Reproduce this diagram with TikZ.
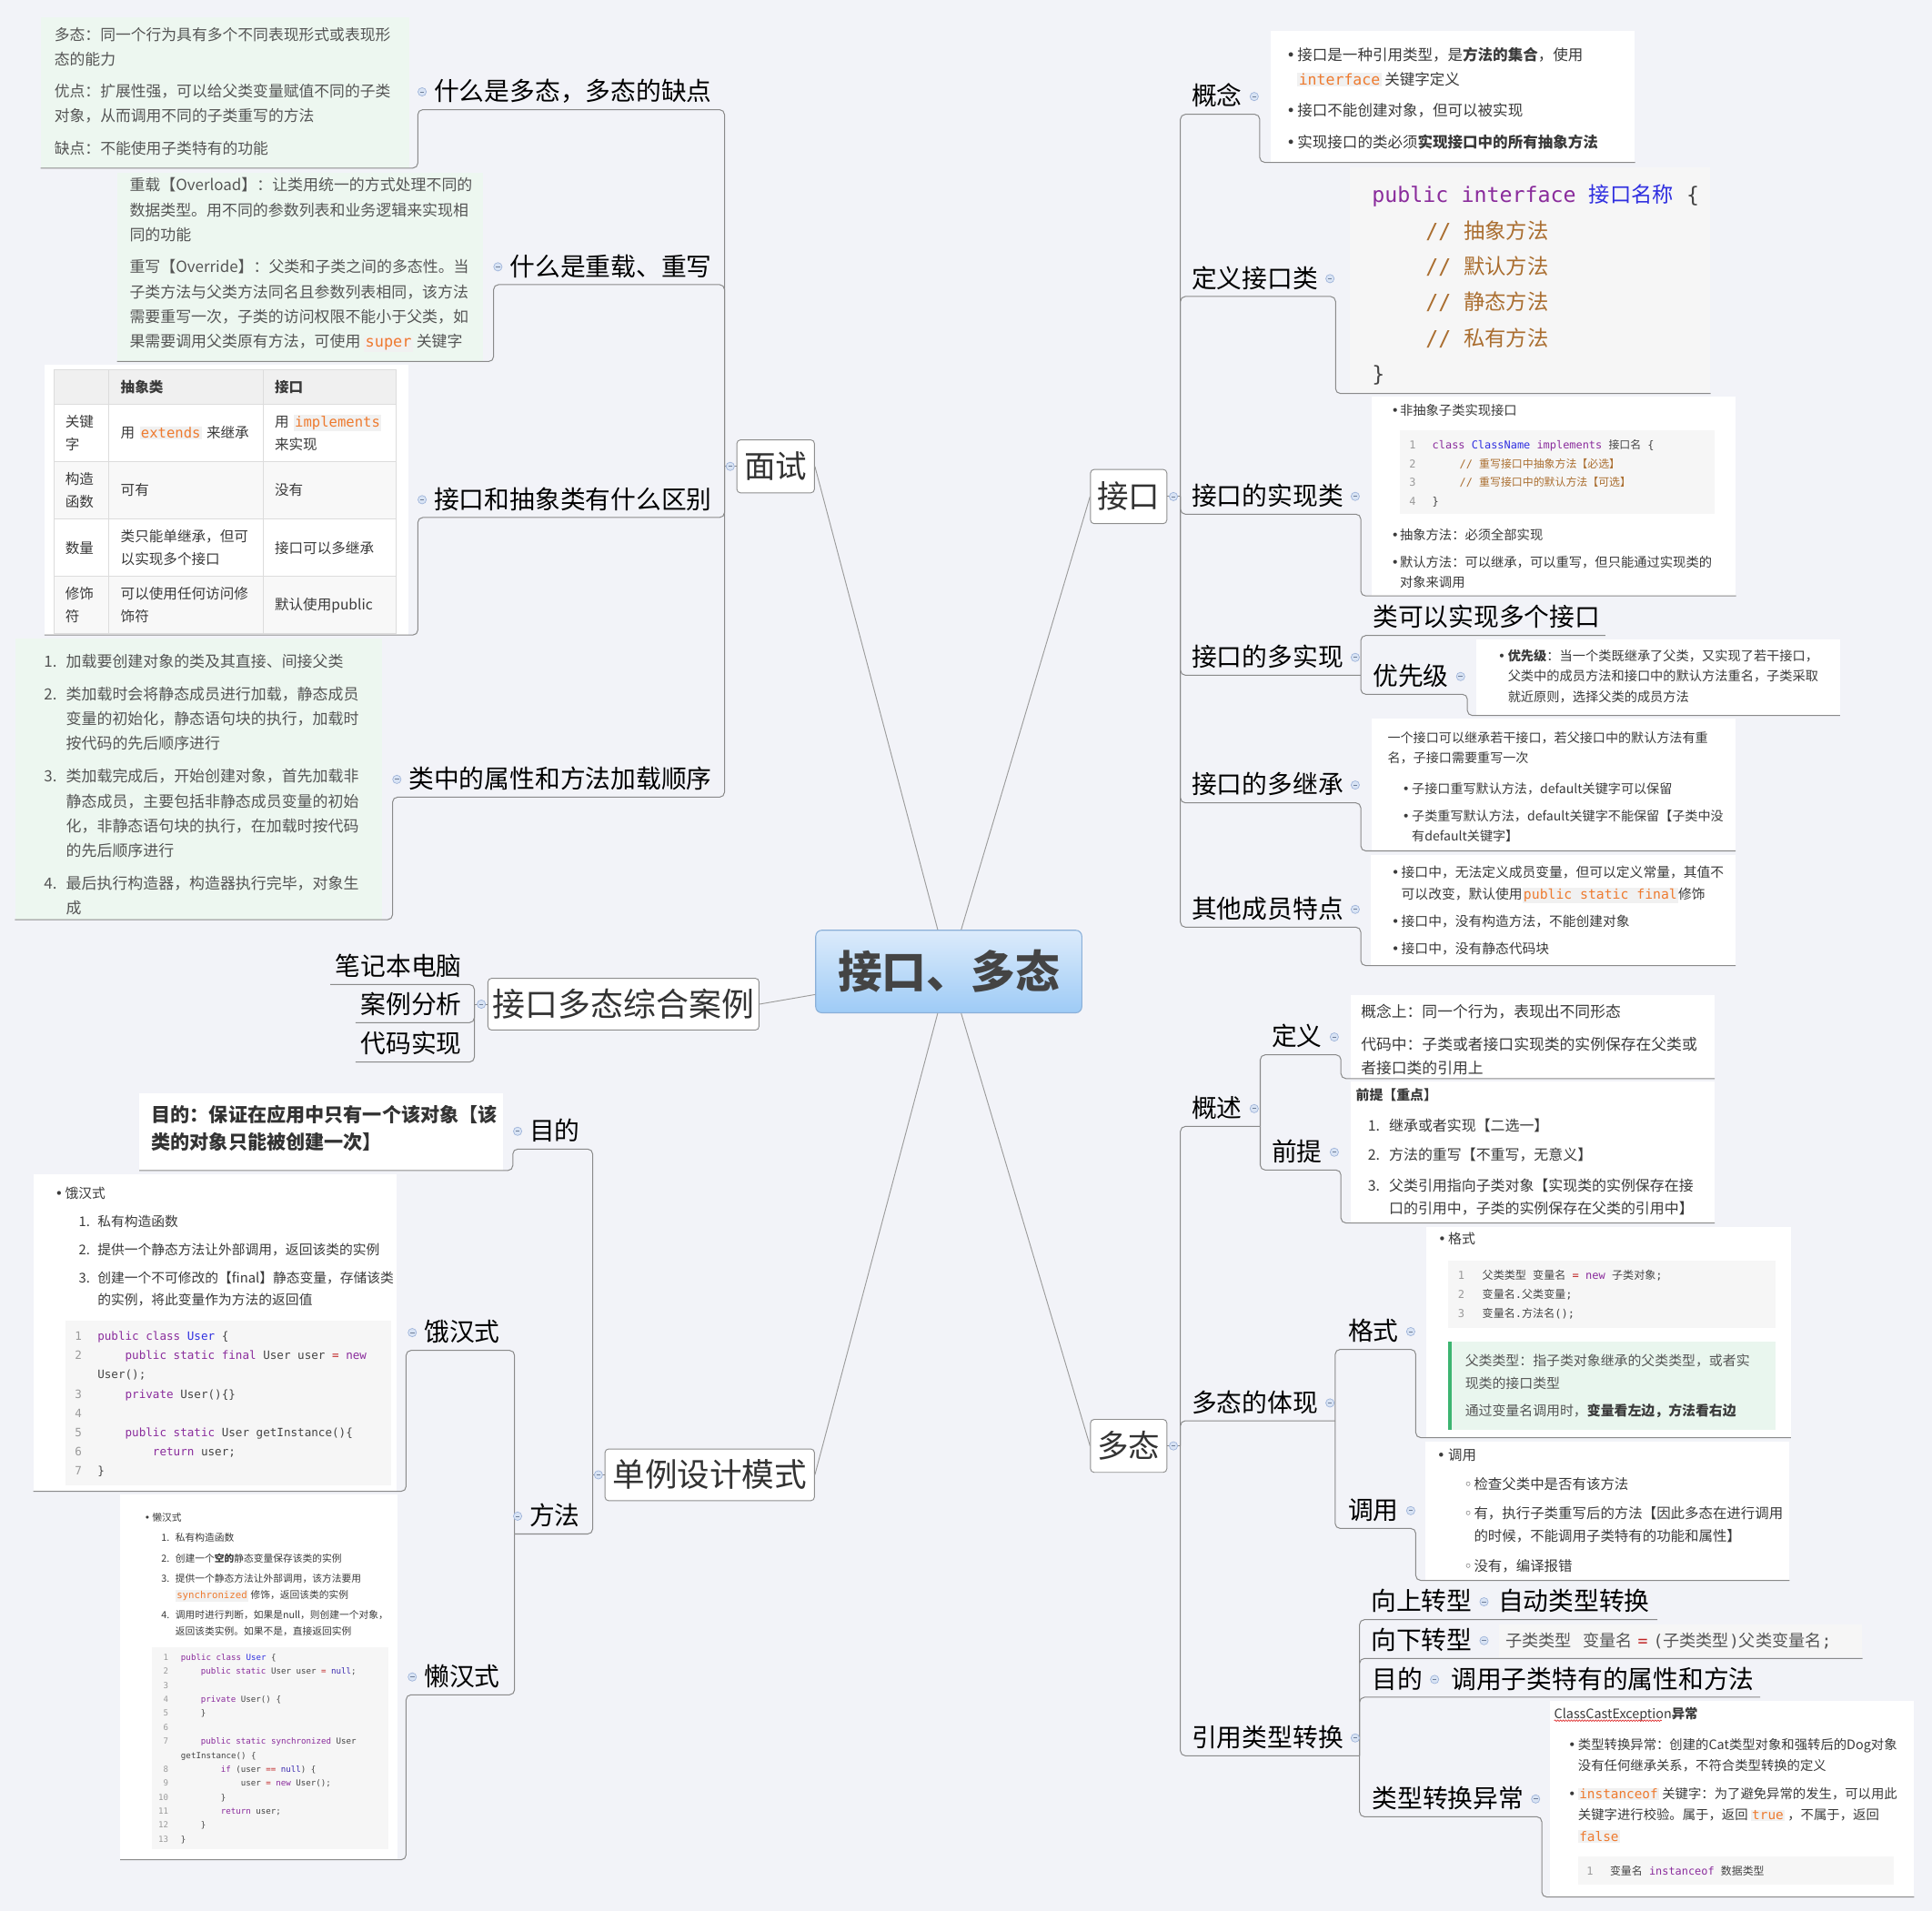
\documentclass[tikz,border=0pt]{standalone}
\usepackage{fontspec}
\setmainfont{Noto Sans CJK SC}
\setmonofont{DejaVu Sans Mono}
\newfontfamily\djv{DejaVu Sans}
\usetikzlibrary{matrix,decorations.pathmorphing}
\definecolor{bgc}{HTML}{F2F3F8}
\definecolor{lnk}{HTML}{8A8A8A}
\definecolor{clnk}{HTML}{9C9C9C}
\definecolor{tbord}{HTML}{8E8E8E}
\definecolor{ttext}{HTML}{333333}
\definecolor{ctop}{HTML}{DCEBFB}
\definecolor{cbot}{HTML}{9ECBF6}
\definecolor{cbord}{HTML}{8AAFD8}
\definecolor{ctext}{HTML}{444444}
\definecolor{foldf}{HTML}{D8E3F4}
\definecolor{foldd}{HTML}{9FB4DA}
\definecolor{gfill}{HTML}{EDF7F0}
\definecolor{gtext}{HTML}{555555}
\definecolor{wtext}{HTML}{3A3A3A}
\definecolor{icbg}{HTML}{F1F1F1}
\definecolor{icfg}{HTML}{EE7A2E}
\definecolor{cbg}{HTML}{F6F6F6}
\definecolor{kwc}{HTML}{8A2C9C}
\definecolor{defc}{HTML}{3030E0}
\definecolor{atomc}{HTML}{3B2BB0}
\definecolor{cmc}{HTML}{AA6E30}
\definecolor{opc}{HTML}{C02525}
\definecolor{lnc}{HTML}{9A9A9A}
\definecolor{codec}{HTML}{444444}
\definecolor{tgrid}{HTML}{DCDCDC}
\definecolor{thead}{HTML}{F0F0F0}
\definecolor{trow}{HTML}{F8F8F8}
\definecolor{qfill}{HTML}{E9F6EE}
\definecolor{qbar}{HTML}{3DB571}
\definecolor{spell}{HTML}{E03030}
\newcommand{\dtx}[3]{\parbox[t][#2][t]{#1}{\rule{0pt}{0.88em}#3}}
\newcommand{\ic}[1]{{\setlength{\fboxsep}{1pt}\colorbox{icbg}{\ttfamily\color{icfg}#1}}}
\newcommand{\kw}[1]{\textcolor{kwc}{#1}}
\newcommand{\tyn}[1]{\textcolor{defc}{#1}}
\newcommand{\zh}[1]{{\rmfamily #1}}
\newcommand{\lnum}[2]{\makebox[#1][l]{\textcolor{lnc}{#2}}}
\newcommand{\lnr}[3]{\makebox[#1][r]{\textcolor{lnc}{#3}}\hspace*{#2}}
\newcommand{\bul}[1]{\makebox[#1][l]{\djv •}}
\newcommand{\wbul}[1]{\makebox[#1][l]{\djv ◦}}
\tikzset{
  topic/.style={draw=tbord, line width=0.7pt, fill=white, rounded corners=3pt, text=ttext,
    inner sep=0pt, font=\fontsize{25.5}{30}\selectfont},
  root/.style={draw=cbord, line width=0.8pt, rounded corners=5pt, top color=ctop, bottom color=cbot,
    text=ctext, inner sep=0pt, minimum width=216pt, minimum height=67pt,
    font=\fontsize{36}{40}\selectfont\bfseries},
  lab/.style={inner xsep=0pt, inner ysep=4pt, text height=17.4pt, text depth=3.1pt,
    font=\fontsize{20.5}{24}\selectfont, text=black},
  labl/.style={lab, anchor=south east},
  labr/.style={lab, anchor=south west},
  note/.style={anchor=north west, inner sep=0pt, fill=white, text=wtext},
  gnote/.style={note, fill=gfill, text=gtext},
  code/.style={note, fill=cbg, text=codec},
  link/.style={draw=lnk, line width=0.75pt, rounded corners=4pt},
  clink/.style={draw=clnk, line width=0.7pt},
  fold/.pic={\draw[fill=foldf, draw=foldd, line width=0.5pt] (0,0) circle (3.4pt);
    \draw[foldd!70!black, line width=0.6pt] (-1.7pt,0) -- (1.7pt,0);}
}

\begin{document}
\begin{tikzpicture}[x=1pt,y=-1pt]
\useasboundingbox (0,0) rectangle (1568,1551);
\fill[bgc] (0,0) rectangle (1568,1551);

% centre and main topics
\node[root] (c) at (770,788.5) {接口、多态};
\node[topic, minimum width=63pt, minimum height=43pt] (ms) at (629.5,378.5) {面试};
\node[topic, minimum width=62pt, minimum height=44pt] (jk) at (916,403) {接口};
\node[topic, minimum width=62pt, minimum height=43pt] (dt) at (916,1173.5) {多态};
\node[topic, minimum width=220pt, minimum height=42pt, font=\fontsize{26.5}{30}\selectfont] (ag) at (506,815) {接口多态综合案例};
\node[topic, minimum width=170pt, minimum height=42pt, font=\fontsize{26.3}{30}\selectfont] (dl) at (576,1197) {单例设计模式};
\draw[clink] (ms.east) -- (c);
\draw[clink] (jk.west) -- (c);
\draw[clink] (ag.east) -- (c);
\draw[clink] (dl.east) -- (c);
\draw[clink] (dt.west) -- (c);

% 面试
\coordinate (msT) at (588,378.5);
\node[labl] (L1) at (578,89) {什么是多态，多态的缺点};
\node[labl] (L2) at (578,231) {什么是重载、重写};
\node[labl] (L3) at (578,420) {接口和抽象类有什么区别};
\node[labl] (L4) at (578,647) {类中的属性和方法加载顺序};
\node[gnote, inner xsep=11pt, inner ysep=7.8pt, font=\fontsize{12.4}{20}\selectfont] (D1) at (33,14)
  {\dtx{277pt}{106.4pt}{多态：同一个行为具有多个不同表现形式或表现形\\态的能力\\[6pt]
   优点：扩展性强，可以给父类变量赋值不同的子类\\对象，从而调用不同的子类重写的方法\\[6pt]
   缺点：不能使用子类特有的功能}};
\node[gnote, inner xsep=10pt, inner ysep=3.75pt, font=\fontsize{12.5}{20.2}\selectfont] (D2) at (95,140)
  {\dtx{277pt}{145.5pt}{重载【Overload】：让类用统一的方式处理不同的\\数据类型。用不同的参数列表和业务逻辑来实现相\\同的功能\\[5.8pt]
   重写【Override】：父类和子类之间的多态性。当\\子类方法与父类方法同名且参数列表相同，该方法\\需要重写一次，子类的访问权限不能小于父类，如\\
   \mbox{果需要调用父类原有方法，可使用 \ic{super} 关键字}}};
\node[note, minimum width=295pt, minimum height=219pt] (D3) at (36,296) {};
\matrix (tbl) [matrix of nodes, nodes in empty cells, anchor=north west, inner sep=0pt,
  row sep=-0.6pt, column sep=-0.6pt,
  nodes={draw=tgrid, line width=0.6pt, fill=white, anchor=center, inner xsep=9.5pt, inner ysep=0pt,
    align=left, text=wtext, font=\fontsize{11.5}{18.5}\selectfont, minimum height=46.6pt},
  column 1/.style={nodes={text width=26pt}},
  column 2/.style={nodes={text width=106pt}},
  column 3/.style={nodes={text width=89pt}},
  row 1/.style={nodes={minimum height=28pt, fill=thead, font=\fontsize{11.5}{18.5}\selectfont\bfseries}},
  row 3/.style={nodes={fill=trow}},
  row 5/.style={nodes={fill=trow}}] at (43,299.5) {
  & 抽象类 & 接口 \\
  {关键\\字} & 用 \ic{extends} 来继承 & {用 \ic{implements}\\来实现} \\
  {构造\\函数} & 可有 & 没有 \\
  数量 & {类只能单继承，但可\\以实现多个接口} & 接口可以多继承 \\
  {修饰\\符} & {可以使用任何访问修\\饰符} & 默认使用public \\
};
\node[gnote, inner xsep=23.5pt, inner ysep=12.45pt, font=\fontsize{12.5}{20}\selectfont] (D4) at (12,518)
  {\dtx{251pt}{203.1pt}{\makebox[18pt][l]{1.}加载要创建对象的类及其直接、间接父类\\[6.6pt]
   \makebox[18pt][l]{2.}类加载时会将静态成员进行加载，静态成员\\\hspace*{18pt}变量的初始化，静态语句块的执行，加载时\\\hspace*{18pt}按代码的先后顺序进行\\[6.6pt]
   \makebox[18pt][l]{3.}类加载完成后，开始创建对象，首先加载非\\\hspace*{18pt}静态成员，主要包括非静态成员变量的初始\\\hspace*{18pt}化，非静态语句块的执行，在加载时按代码\\\hspace*{18pt}的先后顺序进行\\[7pt]
   \makebox[18pt][l]{4.}最后执行构造器，构造器执行完毕，对象生\\\hspace*{18pt}成}};
\draw[link] (ms.west) -- (msT);
\draw[link] (msT) |- (L1.south east) -- ([xshift=-13pt]L1.south west) |- (D1.south west);
\draw[link] (msT) |- (L2.south east) -- ([xshift=-13pt]L2.south west) |- (D2.south west);
\draw[link] (msT) |- (L3.south east) -- ([xshift=-13pt]L3.south west) |- (D3.south west);
\draw[link] (msT) |- (L4.south east) -- ([xshift=-13pt]L4.south west) |- (D4.south west);

% 接口多态综合案例
\coordinate (agT) at (385,815);
\node[labl] (C1) at (375,799) {笔记本电脑};
\node[labl] (C2) at (375,830) {案例分析};
\node[labl] (C3) at (375,862) {代码实现};
\draw[link] (ag.west) -- (agT);
\draw[link] (agT) |- (C1.south east) -- ([xshift=-4pt]C1.south west);
\draw[link] (agT) |- (C2.south east) -- ([xshift=-4pt]C2.south west);
\draw[link] (agT) |- (C3.south east) -- ([xshift=-4pt]C3.south west);

% 单例设计模式
\coordinate (dlT) at (481,1197);
\node[labl] (M1) at (471,932.6) {目的};
\node[labl] (M2) at (471,1245) {方法};
\node[labl] (H1) at (406,1096) {饿汉式};
\node[labl] (H2) at (406,1375.5) {懒汉式};
\node[note, text=ttext, inner xsep=9.7pt, inner ysep=9.8pt, font=\fontsize{15.6}{22}\selectfont\bfseries] (MD1) at (113,887)
  {\dtx{275.6pt}{43pt}{目的：保证在应用中只有一个该对象【该\\类的对象只能被创建一次】}};
\node[note, inner xsep=17.6pt, inner ysep=10.45pt, font=\fontsize{10.9}{17.7}\selectfont] (HD1) at (27,952.6)
  {\dtx{259.8pt}{236.5pt}{\bul{8pt}饿汉式\\[4.8pt]
   \hspace*{19.2pt}\makebox[15.2pt][l]{1.}私有构造函数\\[5.3pt]
   \hspace*{19.2pt}\makebox[15.2pt][l]{2.}提供一个静态方法让外部调用，返回该类的实例\\[5.3pt]
   \hspace*{19.2pt}\makebox[15.2pt][l]{3.}创建一个不可修改的【final】静态变量，存储该类\\
   \hspace*{34.4pt}的实例，将此变量作为方法的返回值}};
\node[code, inner xsep=8pt, inner ysep=7.55pt, font=\fontsize{9.3}{15.6}\selectfont\ttfamily] (HC1) at (52.6,1072)
  {\dtx{248.4pt}{117.9pt}{\lnum{18.4pt}{1}\kw{public} \kw{class} \tyn{User} \{\\
   \lnum{18.4pt}{2}\hspace*{22.4pt}\kw{public} \kw{static} \kw{final} User user \textcolor{opc}{=} \kw{new}\\
   \hspace*{18.4pt}User();\\
   \lnum{18.4pt}{3}\hspace*{22.4pt}\kw{private} User()\{\}\\
   \lnum{18.4pt}{4}\\
   \lnum{18.4pt}{5}\hspace*{22.4pt}\kw{public} \kw{static} User getInstance()\{\\
   \lnum{18.4pt}{6}\hspace*{44.8pt}\kw{return} user;\\
   \lnum{18.4pt}{7}\}}};
\node[note, inner xsep=19.5pt, inner ysep=14.6pt, font=\fontsize{7.93}{12.9}\selectfont] (HD2) at (97.5,1213)
  {\dtx{186pt}{266.8pt}{\bul{6.3pt}懒汉式\\[3.5pt]
   \hspace*{13.7pt}\makebox[11.5pt][l]{1.}私有构造函数\\[3.7pt]
   \hspace*{13.7pt}\makebox[11.5pt][l]{2.}创建一个\textbf{空的}静态变量保存该类的实例\\[3.7pt]
   \hspace*{13.7pt}\makebox[11.5pt][l]{3.}提供一个静态方法让外部调用，该方法要用\\
   \hspace*{25.2pt}\ic{synchronized} 修饰，返回该类的实例\\[3.8pt]
   \hspace*{13.7pt}\makebox[11.5pt][l]{4.}调用时进行判断，如果是null，则创建一个对象，\\
   \hspace*{25.2pt}返回该类实例。如果不是，直接返回实例}};
\node[code, inner xsep=6pt, inner ysep=4.7pt, font=\fontsize{6.75}{11.35}\selectfont\ttfamily] (HC2) at (123.3,1336.7)
  {\dtx{179.9pt}{154.2pt}{\lnr{7.2pt}{10.2pt}{1}\kw{public} \kw{class} \tyn{User} \{\\
   \lnr{7.2pt}{10.2pt}{2}\hspace*{16.2pt}\kw{public} \kw{static} User user \textcolor{opc}{=} \textcolor{atomc}{null};\\
   \lnr{7.2pt}{10.2pt}{3}\\
   \lnr{7.2pt}{10.2pt}{4}\hspace*{16.2pt}\kw{private} User() \{\\
   \lnr{7.2pt}{10.2pt}{5}\hspace*{16.2pt}\}\\
   \lnr{7.2pt}{10.2pt}{6}\\
   \lnr{7.2pt}{10.2pt}{7}\hspace*{16.2pt}\kw{public} \kw{static} \kw{synchronized} User\\
   \hspace*{17.4pt}getInstance() \{\\
   \lnr{7.2pt}{10.2pt}{8}\hspace*{32.4pt}\kw{if} (user \textcolor{opc}{==} \textcolor{atomc}{null}) \{\\
   \lnr{7.2pt}{10.2pt}{9}\hspace*{48.6pt}user \textcolor{opc}{=} \kw{new} User();\\
   \lnr{7.2pt}{10.2pt}{10}\hspace*{32.4pt}\}\\
   \lnr{7.2pt}{10.2pt}{11}\hspace*{32.4pt}\kw{return} user;\\
   \lnr{7.2pt}{10.2pt}{12}\hspace*{16.2pt}\}\\
   \lnr{7.2pt}{10.2pt}{13}\}}};
\draw[link] (dl.west) -- (dlT);
\draw[link] (dlT) |- (M1.south east) -- ([xshift=-13.4pt]M1.south west) |- (MD1.south west);
\draw[link] (dlT) |- (M2.south east) -- ([xshift=-12pt]M2.south west) coordinate (m2T);
\draw[link] (m2T) |- (H1.south east) -- ([xshift=-14.5pt]H1.south west) |- (HD1.south west);
\draw[link] (m2T) |- (H2.south east) -- ([xshift=-14.5pt]H2.south west) |- (HD2.south west);

% 接口
\coordinate (jkT) at (958,403);
\node[labr] (R1) at (967,92.8) {概念};
\node[labr] (R2) at (967,240.6) {定义接口类};
\node[labr] (R3) at (967,417.3) {接口的实现类};
\node[labr] (R4) at (967,548) {接口的多实现};
\node[labr] (R4a) at (1114,515.8) {类可以实现多个接口};
\node[labr] (R4b) at (1114,563.5) {优先级};
\node[labr] (R5) at (967,651.6) {接口的多继承};
\node[labr] (R6) at (967,752.5) {其他成员特点};
\node[note, inner xsep=12.9pt, inner ysep=13.4pt, font=\fontsize{12.2}{19.7}\selectfont] (RD1) at (1031,25)
  {\dtx{269.8pt}{79.6pt}{\bul{8.9pt}接口是一种引用类型，是\textbf{方法的集合}，使用\\
   \hspace*{8.9pt}\ic{interface} 关键字定义\\[5.7pt]
   \bul{8.9pt}接口不能创建对象，但可以被实现\\[5.7pt]
   \bul{8.9pt}实现接口的类必须\textbf{实现接口中的所有抽象方法}}};
\node[code, inner xsep=18.3pt, inner ysep=13.6pt, font=\fontsize{17.2}{29}\selectfont] (RD2) at (1095,135.6)
  {\dtx{256.4pt}{156.2pt}{\mbox{\texttt{\kw{public interface}\ }\tyn{接口名称}\texttt{\ \{}}\\
   \hspace*{43.5pt}\textcolor{cmc}{\texttt{//\ }抽象方法}\\
   \hspace*{43.5pt}\textcolor{cmc}{\texttt{//\ }默认方法}\\
   \hspace*{43.5pt}\textcolor{cmc}{\texttt{//\ }静态方法}\\
   \hspace*{43.5pt}\textcolor{cmc}{\texttt{//\ }私有方法}\\
   \texttt{\}}}};
\node[note, inner xsep=16pt, inner ysep=5.6pt, font=\fontsize{10.55}{16.5}\selectfont] (RD3) at (1113,321.6)
  {\dtx{263.5pt}{150.5pt}{\bul{7pt}非抽象子类实现接口\\[85pt]
   \bul{7pt}抽象方法：必须全部实现\\[5.7pt]
   \bul{7pt}默认方法：可以继承，可以重写，但只能通过实现类的\\
   \hspace*{7pt}对象来调用}};
\node[code, inner xsep=7.6pt, inner ysep=7.4pt, font=\fontsize{8.8}{15.1}\selectfont\ttfamily] (RC3) at (1136,349.2)
  {\dtx{240.2pt}{52.9pt}{\lnum{18.7pt}{1}\mbox{\kw{class} \tyn{ClassName} \kw{implements} \zh{接口名} \{}\\
   \lnum{18.7pt}{2}\hspace*{22.1pt}\textcolor{cmc}{// \zh{重写接口中抽象方法【必选】}}\\
   \lnum{18.7pt}{3}\hspace*{22.1pt}\textcolor{cmc}{// \zh{重写接口中的默认方法【可选】}}\\
   \lnum{18.7pt}{4}\}}};
\node[note, inner xsep=17.5pt, inner ysep=8.05pt, font=\fontsize{10.5}{16.7}\selectfont] (R4bD) at (1198,518.5)
  {\dtx{260pt}{45.7pt}{\bul{8.1pt}\textbf{优先级}：当一个类既继承了父类，又实现了若干接口，\\
   \hspace*{8.1pt}父类中的成员方法和接口中的默认方法重名，子类采取\\
   \hspace*{8.1pt}就近原则，选择父类的成员方法}};
\node[note, inner xsep=13pt, inner ysep=10.3pt, font=\fontsize{10.4}{16.4}\selectfont] (R5D) at (1113,583.2)
  {\dtx{269.3pt}{86.4pt}{一个接口可以继承若干接口，若父接口中的默认方法有重\\名，子接口需要重写一次\\[8.2pt]
   \hspace*{11.9pt}\bul{7.8pt}子接口重写默认方法，default关键字可以保留\\[5.8pt]
   \hspace*{11.9pt}\bul{7.8pt}子类重写默认方法，default关键字不能保留【子类中没\\
   \hspace*{19.7pt}有default关键字】}};
\node[note, inner xsep=17.2pt, inner ysep=8.65pt, font=\fontsize{10.9}{17.9}\selectfont] (R6D) at (1112,693.4)
  {\dtx{261.9pt}{72.6pt}{\bul{8pt}接口中，无法定义成员变量，但可以定义常量，其值不\\
   \hspace*{8pt}可以改变，默认使用\ic{public static final}修饰\\[4.3pt]
   \bul{8pt}接口中，没有构造方法，不能创建对象\\[4.3pt]
   \bul{8pt}接口中，没有静态代码块}};
\draw[link] (jk.east) -- (jkT);
\draw[link] (jkT) |- (R1.south west) -- ([xshift=14pt]R1.south east) |- (RD1.south east);
\draw[link] (jkT) |- (R2.south west) -- ([xshift=14pt]R2.south east) |- (RD2.south east);
\draw[link] (jkT) |- (R3.south west) -- ([xshift=14pt]R3.south east) |- (RD3.south east);
\draw[link] (jkT) |- (R4.south west) -- ([xshift=14pt]R4.south east) coordinate (r4T);
\draw[link] (r4T) |- (R4a.south west) -- ([xshift=4pt]R4a.south east);
\draw[link] (r4T) |- (R4b.south west) -- ([xshift=15pt]R4b.south east) |- (R4bD.south east);
\draw[link] (jkT) |- (R5.south west) -- ([xshift=14pt]R5.south east) |- (R5D.south east);
\draw[link] (jkT) |- (R6.south west) -- ([xshift=14pt]R6.south east) |- (R6D.south east);

% 多态
\coordinate (dtT) at (958,1173.5);
\node[labr] (P1) at (967,914.2) {概述};
\node[labr] (P1a) at (1032,856.1) {定义};
\node[labr] (P1b) at (1032,949.6) {前提};
\node[labr] (P2) at (967,1153.1) {多态的体现};
\node[labr] (P2a) at (1094,1095.2) {格式};
\node[labr] (P2b) at (1094,1240.5) {调用};
\node[labr] (P3) at (967,1425) {引用类型转换};
\node[labr] (P3a) at (1112.5,1314.5) {向上转型};
\node[labr] (P3a1) at (1215.7,1314.5) {自动类型转换};
\node[labr] (P3b) at (1112.5,1346) {向下转型};
\node[labr] (P3c) at (1113.4,1377.5) {目的};
\node[labr] (P3c1) at (1177.6,1377.5) {调用子类特有的属性和方法};
\node[labr] (P3d) at (1113.4,1474.5) {类型转换异常};
\node[code, text=gtext, inner xsep=5.4pt, inner ysep=0pt, text width=284pt, align=left, minimum height=26.3pt,
  text height=11.8pt, text depth=1.6pt, font=\fontsize{13.4}{16}\selectfont\ttfamily] (P3b1) at (1216.4,1318.2)
  {\zh{子类类型}\ \ \zh{变量名}\ \textcolor{opc}{=}\ (\zh{子类类型})\zh{父类变量名};};
\node[note, inner xsep=8.1pt, inner ysep=7.3pt, font=\fontsize{12.4}{19.7}\selectfont] (P1aD) at (1096.3,807.6)
  {\dtx{278.8pt}{52.8pt}{概念上：同一个行为，表现出不同形态\\[6.2pt]代码中：子类或者接口实现类的实例保存在父类或\\者接口类的引用上}};
\node[note, inner xsep=3.9pt, inner ysep=4.3pt, font=\fontsize{11.76}{18.5}\selectfont] (P1bD) at (1096.3,877.7)
  {\dtx{287.2pt}{105.9pt}{{\fontsize{11}{18.5}\selectfont\bfseries 前提【重点】}\\[6.6pt]
   \hspace*{9.8pt}\makebox[17.2pt][l]{1.}继承或者实现【二选一】\\[5.6pt]
   \hspace*{9.8pt}\makebox[17.2pt][l]{2.}方法的重写【不重写，无意义】\\[6.6pt]
   \hspace*{9.8pt}\makebox[17.2pt][l]{3.}父类引用指向子类对象【实现类的实例保存在接\\
   \hspace*{27pt}口的引用中，子类的实例保存在父类的引用中】}};
\node[note, inner xsep=9.7pt, inner ysep=4.3pt, font=\fontsize{11}{18}\selectfont] (P2aD) at (1157.4,995.4)
  {\dtx{276.2pt}{162.4pt}{\bul{8.1pt}格式}};
\node[code, inner xsep=7.9pt, inner ysep=7.85pt, font=\fontsize{8.9}{15.4}\selectfont\ttfamily] (P2aC) at (1175.2,1022.7)
  {\dtx{249.6pt}{38.9pt}{\lnum{19.8pt}{1}\zh{父类类型} \zh{变量名} \textcolor{opc}{=} \kw{new} \zh{子类对象};\\
   \lnum{19.8pt}{2}\zh{变量名}.\zh{父类变量};\\
   \lnum{19.8pt}{3}\zh{变量名}.\zh{方法名}();}};
\node[note, fill=qfill, text=gtext, inner xsep=13.7pt, inner ysep=10pt, font=\fontsize{11}{18}\selectfont] (P2aQ) at (1175.2,1088.9)
  {\dtx{238pt}{51.4pt}{父类类型：指子类对象继承的父类类型，或者实\\现类的接口类型\\[4.6pt]
   通过变量名调用时，\textbf{\color{wtext}变量看左边，方法看右边}}};
\fill[qbar] (P2aQ.north west) rectangle ([xshift=3pt]P2aQ.south west);
\node[note, inner xsep=9.4pt, inner ysep=5.4pt, font=\fontsize{11.4}{18.5}\selectfont] (P2bD) at (1156.7,1169.6)
  {\dtx{276.5pt}{101.9pt}{\bul{9.1pt}调用\\[5.4pt]
   \hspace*{21.9pt}\wbul{8.1pt}检查父类中是否有该方法\\[5.1pt]
   \hspace*{21.9pt}\wbul{8.1pt}有，执行子类重写后的方法【因此多态在进行调用\\
   \hspace*{30pt}的时候，不能调用子类特有的功能和属性】\\[5.3pt]
   \hspace*{21.9pt}\wbul{8.1pt}没有，编译报错}};
\node[note, inner xsep=3.6pt, inner ysep=5pt, font=\fontsize{10.6}{17.1}\selectfont] (P3dD) at (1257.6,1380.5)
  {\dtx{288.3pt}{148.7pt}{ClassCastException\textbf{异常}\\[8pt]
   \hspace*{11.3pt}\bul{8.1pt}类型转换异常：创建的Cat类型对象和强转后的Dog对象\\
   \hspace*{19.4pt}没有任何继承关系，不符合类型转换的定义\\[5.7pt]
   \hspace*{11.3pt}\bul{8.1pt}\mbox{\ic{instanceof} 关键字：为了避免异常的发生，可以用此}\\
   \hspace*{19.4pt}\mbox{关键字进行校验。属于，返回 \ic{true} ，不属于，返回}\\
   \hspace*{19.4pt}\ic{false}}};
\draw[spell, line width=0.5pt, decorate, decoration={snake, amplitude=0.6pt, segment length=2.2pt}]
  ([xshift=3.8pt, yshift=-16pt]P3dD.north west) -- ([xshift=91pt, yshift=-16pt]P3dD.north west);
\node[code, inner xsep=6.9pt, inner ysep=7.1pt, font=\fontsize{8.8}{15}\selectfont\ttfamily] (P3dC) at (1280.6,1506.5)
  {\dtx{242.4pt}{8.7pt}{\lnum{19pt}{1}\zh{变量名} \kw{instanceof} \zh{数据类型}}};
\draw[link] (dt.east) -- (dtT);
\draw[link] (dtT) |- (P1.south west) -- ([xshift=14.4pt]P1.south east) coordinate (p1T);
\draw[link] (p1T) |- (P1a.south west) -- ([xshift=14.9pt]P1a.south east) |- (P1aD.south east);
\draw[link] (p1T) |- (P1b.south west) -- ([xshift=14.9pt]P1b.south east) |- (P1bD.south east);
\draw[link] (dtT) |- (P2.south west) -- ([xshift=13.7pt]P2.south east) coordinate (p2T);
\draw[link] (p2T) |- (P2a.south west) -- ([xshift=13.6pt]P2a.south east) |- (P2aD.south east);
\draw[link] (p2T) |- (P2b.south west) -- ([xshift=13.6pt]P2b.south east) |- (P2bD.south east);
\draw[link] (dtT) |- (P3.south west) -- ([xshift=13pt]P3.south east) coordinate (p3T);
\draw[link] (p3T) |- (P3a.south west) -- ([xshift=6pt]P3a1.south east);
\draw[link] (p3T) |- (P3b.south west) -- (P3b1.south east |- P3b.south west);
\draw[link] (p3T) |- (P3c.south west) -- ([xshift=4.6pt]P3c1.south east);
\draw[link] (p3T) |- (P3d.south west) -- ([xshift=14.5pt]P3d.south east) |- (P3dD.south east);

% fold markers
\pic at ([xshift=-5pt]ms.west) {fold};
\pic at ([xshift=-5pt]ag.west) {fold};
\pic at ([xshift=-5pt]dl.west) {fold};
\pic at ([xshift=5pt]jk.east) {fold};
\pic at ([xshift=5pt]dt.east) {fold};
\foreach \n in {L1,L2,L3,L4,M1,M2,H1,H2}
  \pic at ([xshift=-9.5pt]\n.west) {fold};
\foreach \n in {R1,R2,R3,R4,R4b,R5,R6,P1,P1a,P1b,P2,P2a,P2b,P3,P3a,P3b,P3c,P3d}
  \pic at ([xshift=9.5pt]\n.east) {fold};
\end{tikzpicture}
\end{document}
